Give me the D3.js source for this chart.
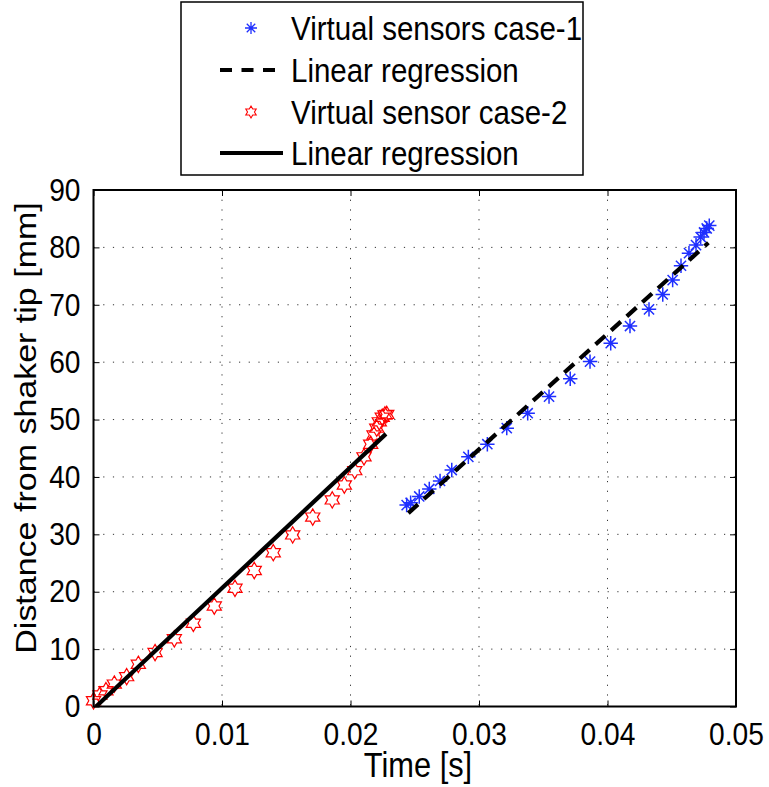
<!DOCTYPE html>
<html>
<head>
<meta charset="utf-8">
<script src="https://cdn.jsdelivr.net/npm/d3@7"></script>
<style>
  html, body { margin: 0; padding: 0; background: #fff; }
  svg { display: block; font-family: "Liberation Sans", Arial, Helvetica, sans-serif; }
</style>
</head>
<body>
<svg id="chart" width="769" height="787"></svg>
<script>
// Case-1 virtual sensors: time [s] and distance from shaker tip [mm]
const case1Time = [0.02437, 0.02468, 0.02535, 0.02613, 0.02697, 0.02788, 0.02917, 0.03065,
  0.03216, 0.03379, 0.03545, 0.03710, 0.03864, 0.04025, 0.04175, 0.04323, 0.04430, 0.04507,
  0.04572, 0.04634, 0.04689, 0.04725, 0.04751, 0.04772, 0.04792];
const case1Dist = [35.1, 35.5, 36.6, 37.9, 39.3, 41.2, 43.5, 45.7,
  48.5, 51.1, 54.0, 57.1, 60.1, 63.3, 66.3, 69.2, 71.8, 74.3,
  76.8, 79.0, 80.4, 81.8, 82.6, 83.3, 83.8];

// Case-1 linear regression, end points
const fit1Time = [0.0245, 0.04785];
const fit1Dist = [33.7, 80.8];

// Case-2 virtual sensor
const case2Time = [0.0000, 0.0005, 0.00097, 0.00162, 0.00258, 0.00349, 0.00479, 0.00629,
  0.00777, 0.00940, 0.01101, 0.01251, 0.01399, 0.01550, 0.01706, 0.01858, 0.01952, 0.02033,
  0.02105, 0.02157, 0.02183, 0.02204, 0.02224, 0.02247, 0.02268, 0.02282];
const case2Dist = [1.0, 2.0, 2.75, 3.9, 5.2, 7.35, 9.4, 11.8,
  14.5, 17.5, 20.6, 23.7, 26.8, 29.9, 33.0, 36.0, 38.6, 41.1,
  43.5, 45.7, 47.3, 48.5, 49.6, 50.4, 50.8, 50.9];

// Case-2 linear regression, end points
const fit2Time = [0.0002, 0.02276];
const fit2Dist = [0.0, 47.5];

const xTicks = [0, 0.01, 0.02, 0.03, 0.04, 0.05];
const xTickLabels = ["0", "0.01", "0.02", "0.03", "0.04", "0.05"];
const yTicks = [0, 10, 20, 30, 40, 50, 60, 70, 80, 90];

const legendLabels = ["Virtual sensors case-1", "Linear regression", "Virtual sensor case-2", "Linear regression"];

const svg = d3.select("#chart");
const plotL = 93.5, plotR = 736, plotT = 190, plotB = 706.5;

const x = d3.scaleLinear().domain([0, 0.05]).range([plotL, plotR]);
const y = d3.scaleLinear().domain([0, 90]).range([plotB, plotT]);

const gridColor = "#333";
const tickFont = 32;
const squeeze = 0.88;   // glyphs are narrower than they are tall

// Dotted grid
const grid = svg.append("g");
grid.selectAll("line.gx").data(xTicks.slice(1, -1)).join("line")
  .attr("class", "gx")
  .attr("x1", d => x(d)).attr("x2", d => x(d))
  .attr("y1", plotT).attr("y2", plotB)
  .attr("stroke", gridColor).attr("stroke-width", 1).attr("stroke-dasharray", "1.2,8.5");
grid.selectAll("line.gy").data(yTicks.slice(1, -1)).join("line")
  .attr("class", "gy")
  .attr("x1", plotL).attr("x2", plotR)
  .attr("y1", d => y(d)).attr("y2", d => y(d))
  .attr("stroke", gridColor).attr("stroke-width", 1).attr("stroke-dasharray", "1.2,8.5");

// Marker shapes
function asteriskPath(r) {
  const p = [];
  for (let k = 0; k < 4; k++) {
    const a = k * Math.PI / 4;
    const dx = r * Math.sin(a), dy = r * Math.cos(a);
    p.push(`M${-dx},${-dy}L${dx},${dy}`);
  }
  return p.join("");
}
function hexagramPath(R) {
  const r = R / Math.sqrt(3);
  const pts = [];
  for (let k = 0; k < 12; k++) {
    const a = -Math.PI / 2 + k * Math.PI / 6;
    const rr = k % 2 === 0 ? R : r;
    pts.push([rr * Math.cos(a), rr * Math.sin(a)]);
  }
  return "M" + pts.map(p => p[0].toFixed(2) + "," + p[1].toFixed(2)).join("L") + "Z";
}

const plot = svg.append("g");
svg.append("clipPath").attr("id", "plotclip")
  .append("rect").attr("x", plotL).attr("y", plotT).attr("width", plotR - plotL).attr("height", plotB - plotT);

// Case-1 markers
const case1 = case1Time.map((t, i) => [t, case1Dist[i]]);
plot.selectAll("path.c1").data(case1).join("path")
  .attr("class", "c1")
  .attr("transform", d => `translate(${x(d[0])},${y(d[1])})`)
  .attr("d", asteriskPath(7.2))
  .attr("fill", "none").attr("stroke", "#1f2fff").attr("stroke-width", 1.5);

// Case-1 regression (dashed)
const line = d3.line().x(d => x(d[0])).y(d => y(d[1]));
plot.append("path")
  .datum(fit1Time.map((t, i) => [t, fit1Dist[i]]))
  .attr("d", line)
  .attr("fill", "none").attr("stroke", "#000").attr("stroke-width", 4.2)
  .attr("stroke-dasharray", "13,8");

// Case-2 markers
const case2 = case2Time.map((t, i) => [t, case2Dist[i]]);
plot.selectAll("path.c2").data(case2).join("path")
  .attr("class", "c2")
  .attr("transform", d => `translate(${x(d[0])},${y(d[1])})`)
  .attr("d", hexagramPath(8.2))
  .attr("fill", "none").attr("stroke", "#ff0000").attr("stroke-width", 1.2);

// Case-2 regression (solid)
plot.append("path")
  .datum(fit2Time.map((t, i) => [t, fit2Dist[i]]))
  .attr("d", line)
  .attr("clip-path", "url(#plotclip)")
  .attr("fill", "none").attr("stroke", "#000").attr("stroke-width", 4.2);

// Axes box with inward ticks on all sides
const tickLen = 6;
const padB = 16, padL = 13;
const axB = svg.append("g").attr("transform", `translate(0,${plotB})`)
  .call(d3.axisBottom(x).tickValues(xTicks).tickFormat((d, i) => xTickLabels[i]).tickSize(-tickLen).tickPadding(padB));
const axT = svg.append("g").attr("transform", `translate(0,${plotT})`)
  .call(d3.axisTop(x).tickValues(xTicks).tickFormat("").tickSize(-tickLen));
const axL = svg.append("g").attr("transform", `translate(${plotL},0)`)
  .call(d3.axisLeft(y).tickValues(yTicks).tickFormat(d3.format("d")).tickSize(-tickLen).tickPadding(padL));
const axR = svg.append("g").attr("transform", `translate(${plotR},0)`)
  .call(d3.axisRight(y).tickValues(yTicks).tickFormat("").tickSize(-tickLen));
[axB, axT, axL, axR].forEach(g => {
  g.select(".domain").remove();
  g.selectAll(".tick line").attr("stroke", "#000").attr("stroke-width", 1);
  g.selectAll(".tick text").attr("fill", "#000").style("font-size", tickFont + "px")
    .style("font-family", '"Liberation Sans", Arial, sans-serif');
});
axB.selectAll(".tick text").attr("transform", `scale(${squeeze},1)`);
axL.selectAll(".tick text").attr("x", -padL / squeeze).attr("transform", `scale(${squeeze},1)`);

svg.append("rect").attr("x", plotL).attr("y", plotT).attr("width", plotR - plotL).attr("height", plotB - plotT)
  .attr("fill", "none").attr("stroke", "#000").attr("stroke-width", 2);

// Axis titles
svg.append("text").attr("transform", `translate(418,777) scale(${squeeze},1)`).attr("text-anchor", "middle")
  .style("font-size", "35px").text("Time [s]");
svg.append("text").attr("transform", `translate(36,428) rotate(-90) scale(1,${squeeze})`).attr("text-anchor", "middle")
  .style("font-size", "34px").text("Distance from shaker tip [mm]");

// Legend
const leg = svg.append("g");
leg.append("rect").attr("x", 181).attr("y", 2).attr("width", 402).attr("height", 173)
  .attr("fill", "#fff").attr("stroke", "#000").attr("stroke-width", 1.5);
const rowY = [28, 70, 112, 153];
leg.selectAll("text").data(legendLabels).join("text")
  .attr("transform", (d, i) => `translate(291,${rowY[i]}) scale(0.88,1)`)
  .attr("dy", "0.35em")
  .style("font-size", "33.5px").text(d => d);
leg.append("path").attr("transform", `translate(251,${rowY[0]})`).attr("d", asteriskPath(6))
  .attr("fill", "none").attr("stroke", "#1f2fff").attr("stroke-width", 1.3);
leg.append("line").attr("x1", 220).attr("x2", 283).attr("y1", rowY[1]).attr("y2", rowY[1])
  .attr("stroke", "#000").attr("stroke-width", 4.2).attr("stroke-dasharray", "12,9.5");
leg.append("path").attr("transform", `translate(251,${rowY[2]})`).attr("d", hexagramPath(6))
  .attr("fill", "none").attr("stroke", "#ff0000").attr("stroke-width", 1.1);
leg.append("line").attr("x1", 220).attr("x2", 283).attr("y1", rowY[3]).attr("y2", rowY[3])
  .attr("stroke", "#000").attr("stroke-width", 4.2);
</script>
</body>
</html>
